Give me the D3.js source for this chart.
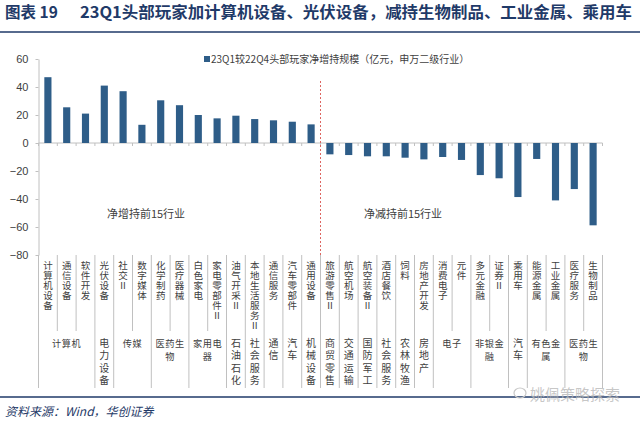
<!DOCTYPE html>
<html>
<head>
<meta charset="utf-8">
<script src="https://cdn.jsdelivr.net/npm/d3@7"></script>
<style>
  body { margin: 0; background: #fff; }
  svg { display: block; }
  .vtext { writing-mode: vertical-rl; text-orientation: upright; }
</style>
</head>
<body>
<div id="plot"></div>
<script>
// data
const categories = [
  "计算机设备", "通信设备", "软件开发", "光伏设备", "社交Ⅱ", "数字媒体", "化学制药", "医疗器械",
  "白色家电", "家电零部件Ⅱ", "油气开采Ⅱ", "本地生活服务Ⅱ", "通信服务", "汽车零部件", "通用设备",
  "旅游零售Ⅱ", "航空机场", "航空装备Ⅱ", "酒店餐饮", "饲料", "房地产开发", "消费电子", "元件",
  "多元金融", "证券Ⅱ", "乘用车", "能源金属", "工业金属", "医疗服务", "生物制品"
];
const values = [
  47, 25.5, 21, 41, 37, 13, 30.5, 27, 20, 17.6, 19.5, 17.1, 16.2, 15.2, 13.3,
  -8.1, -8.6, -9.5, -9.5, -10.5, -11.7, -10, -12.1, -22.9, -25.2, -38.6, -11.4, -41, -32.9, -58.8
];
const groupNames = [
  "计算机", "电力设备", "传媒", "医药生物", "家用电器", "石油石化", "社会服务", "通信", "汽车",
  "机械设备", "商贸零售", "交通运输", "国防军工", "社会服务", "农林牧渔", "房地产", "电子",
  "非银金融", "汽车", "有色金属", "医药生物"
];
const groupSpans = [3, 1, 2, 2, 2, 1, 1, 1, 1, 1, 1, 1, 1, 1, 1, 1, 2, 2, 1, 2, 2];
const yTicks = [60, 40, 20, 0, -20, -40, -60, -80];
const seriesName = "23Q1较22Q4头部玩家净增持规模（亿元，申万二级行业）";
const noteLeft = "净增持前15行业";
const noteRight = "净减持前15行业";

const W = 640, H = 424;
const navy = "#1f3a68";
const barColor = "#2e5d88";
const gridGray = "#c0c0c0";
const textGray = "#404040";
const cjk = "'Noto Sans CJK SC', 'Noto Sans', sans-serif";

const svg = d3.select("div#plot").append("svg")
    .attr("width", W).attr("height", H);

// title + rules
svg.append("text")
    .attr("x", 5).attr("y", 18)
    .attr("font-family", cjk).attr("font-weight", "bold")
    .attr("font-size", 15.5).attr("fill", navy)
    .text("图表 19");
svg.append("text")
    .attr("x", 80).attr("y", 18)
    .attr("font-family", cjk).attr("font-weight", "bold")
    .attr("font-size", 15.5).attr("fill", navy)
    .attr("textLength", 552).attr("lengthAdjust", "spacingAndGlyphs")
    .text("23Q1头部玩家加计算机设备、光伏设备，减持生物制品、工业金属、乘用车");
svg.append("line").attr("x1", 0).attr("x2", W).attr("y1", 32).attr("y2", 32)
    .attr("stroke", navy).attr("stroke-width", 1.6);
svg.append("line").attr("x1", 0).attr("x2", W).attr("y1", 397).attr("y2", 397)
    .attr("stroke", navy).attr("stroke-width", 1.6);
svg.append("text")
    .attr("x", 5).attr("y", 416)
    .attr("font-family", cjk).attr("font-style", "italic")
    .attr("font-size", 12).attr("fill", navy)
    .text("资料来源：Wind，华创证券");

// scales
const plotLeft = 38.5, plotRight = 602.5, plotTop = 59, plotBottom = 255;
const x = d3.scaleBand().domain(d3.range(categories.length)).range([plotLeft, plotRight]);
const y = d3.scaleLinear().domain([-80, 60]).range([plotBottom, plotTop]);
const bw = x.bandwidth();
const barW = bw * 0.38;

// y axis
const yAxis = svg.append("g")
    .attr("transform", `translate(${plotLeft},0)`)
    .call(d3.axisLeft(y).tickValues(yTicks).tickSizeInner(3).tickSizeOuter(0).tickPadding(7));
yAxis.select(".domain").attr("stroke", gridGray);
yAxis.selectAll(".tick line").attr("stroke", gridGray);
yAxis.selectAll(".tick text")
    .attr("font-family", "'Liberation Sans', Arial, sans-serif")
    .attr("font-size", 11).attr("fill", textGray);

// zero line with small ticks at band edges
svg.append("line")
    .attr("x1", plotLeft).attr("x2", plotRight)
    .attr("y1", y(0)).attr("y2", y(0))
    .attr("stroke", gridGray);
svg.append("g").selectAll("line")
    .data(d3.range(categories.length + 1))
    .join("line")
    .attr("x1", i => plotLeft + i * bw).attr("x2", i => plotLeft + i * bw)
    .attr("y1", y(0)).attr("y2", y(0) + 3)
    .attr("stroke", gridGray);

// bars
svg.append("g").selectAll("rect")
    .data(values)
    .join("rect")
    .attr("x", (d, i) => x(i) + (bw - barW) / 2)
    .attr("y", d => y(Math.max(0, d)))
    .attr("width", barW)
    .attr("height", d => Math.abs(y(d) - y(0)))
    .attr("fill", barColor);

// red divider
svg.append("line")
    .attr("x1", x(15)).attr("x2", x(15))
    .attr("y1", 81).attr("y2", plotBottom)
    .attr("stroke", "#d9534f").attr("stroke-width", 0.9)
    .attr("stroke-dasharray", "2,2");

// legend
svg.append("rect").attr("x", 204).attr("y", 56).attr("width", 6).attr("height", 6).attr("fill", barColor);
svg.append("text")
    .attr("x", 211).attr("y", 62.5)
    .attr("font-family", cjk).attr("font-size", 10).attr("fill", textGray)
    .text(seriesName);

// notes
svg.append("text").attr("x", 146).attr("y", 218).attr("text-anchor", "middle")
    .attr("font-family", cjk).attr("font-size", 11).attr("fill", textGray).text(noteLeft);
svg.append("text").attr("x", 403).attr("y", 218).attr("text-anchor", "middle")
    .attr("font-family", cjk).attr("font-size", 11).attr("fill", textGray).text(noteRight);

// multi-level category axis
const groupStarts = [];
groupSpans.reduce((acc, s) => { groupStarts.push(acc); return acc + s; }, 0);
const groupEdges = new Set(groupStarts.concat([categories.length]));
const sepTop = 255, sepMid = 331, sepBot = 388;

svg.append("g").selectAll("line")
    .data(d3.range(categories.length + 1))
    .join("line")
    .attr("x1", i => plotLeft + i * bw).attr("x2", i => plotLeft + i * bw)
    .attr("y1", sepTop)
    .attr("y2", i => groupEdges.has(i) ? sepBot : sepMid)
    .attr("stroke", gridGray);

// vertical label: one upright character per text, stacked downwards
function verticalText(g, str, cx, yTop, step, size) {
  g.append("g").selectAll("text")
    .data(Array.from(str))
    .join("text")
    .attr("class", "vtext")
    .attr("x", cx).attr("y", (c, k) => yTop + k * step)
    .attr("font-family", cjk).attr("font-size", size).attr("fill", textGray)
    .text(c => c);
}

const lvl1 = svg.append("g");
categories.forEach((c, i) => verticalText(lvl1, c, x(i) + bw / 2, 260.3, 10, 9.5));

const lvl2 = svg.append("g");
groupNames.forEach((name, gi) => {
  const s = groupStarts[gi], span = groupSpans[gi];
  const cx = plotLeft + (s + span / 2) * bw;
  if (span === 1) {
    verticalText(lvl2, name, cx, 338, 12.4, 10);
  } else {
    const perLine = span >= 3 ? 4 : 3;
    const chars = Array.from(name);
    const lines = [];
    for (let k = 0; k < chars.length; k += perLine) lines.push(chars.slice(k, k + perLine).join(""));
    lines.forEach((ln, k) => {
      lvl2.append("text")
        .attr("x", cx).attr("y", 346.5 + k * 13.5)
        .attr("text-anchor", "middle")
        .attr("font-family", cjk).attr("font-size", 9.2).attr("fill", textGray)
        .attr("letter-spacing", 0.6)
        .text(ln);
    });
  }
});

// watermark
svg.append("text")
    .attr("x", 530).attr("y", 400)
    .attr("font-family", cjk).attr("font-size", 15).attr("fill", "#b8b8b8")
    .attr("fill-opacity", 0.8)
    .text("姚佩策略探索");
svg.append("ellipse").attr("cx", 520).attr("cy", 393).attr("rx", 6).attr("ry", 5)
    .attr("fill", "none").attr("stroke", "#c8c8c8").attr("stroke-width", 1.2);
</script>
</body>
</html>
